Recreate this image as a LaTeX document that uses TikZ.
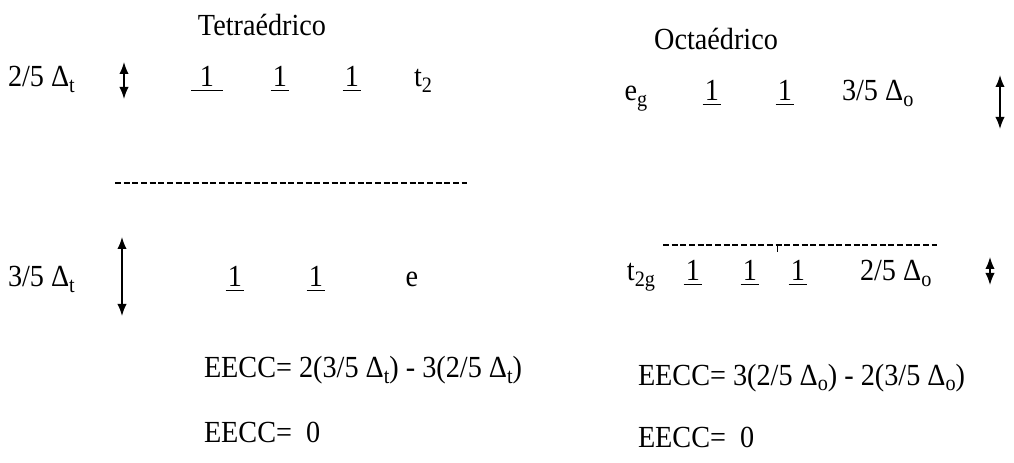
\documentclass[tikz,border=0pt]{standalone}
\usepackage{fontspec}
\setmainfont[FakeStretch=0.92]{Liberation Serif}
\usetikzlibrary{arrows.meta}
\newcommand{\sbs}[1]{\raisebox{-0.36ex}{\fontsize{16.5}{17}\selectfont #1}}
\begin{document}
\begin{tikzpicture}[x=0.75pt,y=-0.75pt,
  txt/.style={inner sep=0pt,outer sep=0pt,font=\fontsize{23}{25}\selectfont},
  spin/.style={txt},
  uline/.style={line width=1.1pt},
  dashline/.style={line width=2pt,dash pattern=on 4.5pt off 2pt},
  dbl/.style={line width=1.1pt,{Latex[length=9pt,width=7pt]}-{Latex[length=9pt,width=7pt]}}]
\useasboundingbox (0,0) rectangle (1014,463);
% titles
\node[txt,anchor=base] (tt) at (262,36) {Tetraédrico};
\node[txt,anchor=base] (ot) at (716,50) {Octaédrico};
% left upper row
\node[txt,anchor=base west] (l1) at (8,87) {2/5 Δ\sbs{t}};
\coordinate (la1) at (124,62);
\coordinate (la2) at (124,99);
\draw[dbl] (la1) -- (la2);
\node[spin,anchor=base] (s1) at (207,87) {1};
\draw[uline] ([xshift=-12pt,yshift=-2.5pt]s1.base) coordinate (u1a) -- ([xshift=12pt,yshift=-2.5pt]s1.base) coordinate (u1b);
\node[spin,anchor=base] (s2) at (280,87) {1};
\node[spin,anchor=base] (s3) at (352,87) {1};
\foreach \n in {s2,s3}{\draw[uline] ([xshift=-7pt,yshift=-2.5pt]\n.base) -- ([xshift=7pt,yshift=-2.5pt]\n.base);}
\node[txt,anchor=base] (t2) at (423,87) {t\sbs{2}};
% left dashed
\coordinate (ld1) at (115,183);
\coordinate (ld2) at (467,183);
\draw[dashline] (ld1) -- (ld2);
% left lower row
\node[txt,anchor=base west] (l2) at (8,287) {3/5 Δ\sbs{t}};
\coordinate (lb1) at (122,237);
\coordinate (lb2) at (122,316);
\draw[dbl] (lb1) -- (lb2);
\node[spin,anchor=base] (s4) at (235,287) {1};
\node[spin,anchor=base] (s5) at (316,287) {1};
\foreach \n in {s4,s5}{\draw[uline] ([xshift=-7pt,yshift=-2.5pt]\n.base) -- ([xshift=7pt,yshift=-2.5pt]\n.base);}
\node[txt,anchor=base] (e) at (412,287) {e};
% left equations
\node[txt,anchor=base west] (eq1) at (204,378) {EECC= 2(3/5 Δ\sbs{t}) - 3(2/5 Δ\sbs{t})};
\node[txt,anchor=base west] (eq2) at (204,442) {EECC=\ \ 0};
% right upper row
\node[txt,anchor=base] (eg) at (636,101) {e\sbs{g}};
\node[spin,anchor=base] (s6) at (712,101) {1};
\node[spin,anchor=base] (s7) at (785,101) {1};
\foreach \n in {s6,s7}{\draw[uline] ([xshift=-7pt,yshift=-2.5pt]\n.base) -- ([xshift=7pt,yshift=-2.5pt]\n.base);}
\node[txt,anchor=base west] (r1) at (842,101) {3/5 Δ\sbs{o}};
\coordinate (ra1) at (1000,75);
\coordinate (ra2) at (1000,129);
\draw[dbl] (ra1) -- (ra2);
% right dashed
\coordinate (rd1) at (663,245);
\coordinate (rd2) at (937,245);
\draw[dashline] (rd1) -- (rd2);
\coordinate (tk) at (777,245);
\draw[line width=0.6pt] (tk) -- ++(0,7);
% right lower row
\node[txt,anchor=base] (t2g) at (641,281) {t\sbs{2g}};
\node[spin,anchor=base] (s8) at (693,281) {1};
\node[spin,anchor=base] (s9) at (750,281) {1};
\node[spin,anchor=base] (s10) at (798,281) {1};
\foreach \n in {s8,s9,s10}{\draw[uline] ([xshift=-7pt,yshift=-2.5pt]\n.base) -- ([xshift=7pt,yshift=-2.5pt]\n.base);}
\node[txt,anchor=base west] (r2) at (860,281) {2/5 Δ\sbs{o}};
\coordinate (rb1) at (990,257);
\coordinate (rb2) at (990,285);
\draw[dbl] (rb1) -- (rb2);
% right equations
\node[txt,anchor=base west] (eq3) at (638,385) {EECC= 3(2/5 Δ\sbs{o}) - 2(3/5 Δ\sbs{o})};
\node[txt,anchor=base west] (eq4) at (638,447) {EECC=\ \ 0};
\end{tikzpicture}
\end{document}
